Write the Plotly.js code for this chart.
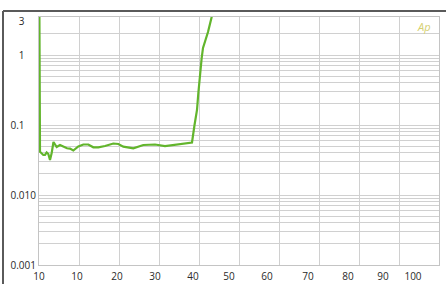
<!DOCTYPE html>
<html>
<head>
<meta charset="utf-8">
<script src="https://cdn.plot.ly/plotly-3.0.1.min.js"></script>
<style>html,body{margin:0;padding:0;background:#fff;}#chart{width:446px;height:284px;}</style>
</head>
<body>
<div id="chart"></div>
<script>
// Curve data (x in grid units: each vertical grid division = 10 units)
const xValues = [0.1, 0.1, 0.25, 1.08, 1.5, 1.92, 2.33, 2.75, 3.17, 3.62, 4.42, 5.25, 6.08, 7.0, 7.75, 8.58, 9.83, 11.08, 12.33, 13.58, 14.83, 16.5, 18.58, 19.83, 21.08, 23.58, 26.08, 29.0, 31.5, 35.25, 38.25, 38.88, 39.5, 39.83, 40.25, 40.67, 41.0, 41.5, 42.25, 43.17, 43.5];
const yValues = [4.0, 0.2, 0.0416, 0.0373, 0.0373, 0.0405, 0.0385, 0.0316, 0.0398, 0.0572, 0.0485, 0.0518, 0.049, 0.0465, 0.046, 0.0432, 0.0493, 0.0527, 0.0527, 0.048, 0.048, 0.0501, 0.0544, 0.0535, 0.049, 0.0465, 0.0518, 0.0527, 0.0501, 0.0535, 0.0562, 0.1, 0.164, 0.284, 0.572, 0.906, 1.26, 1.53, 2.13, 3.49, 4.1];

// X tick labels (as printed) and their positions
const xTickText = ['10', '10', '20', '30', '40', '50', '60', '70', '80', '90', '100'];
const xTickPos = [0, 9.5, 19.5, 29, 38.5, 47.5, 57, 67.25, 77.25, 86, 93.5];
const xGridVals = [0, 10, 20, 30, 40, 50, 60, 70, 80, 90, 100];

// Y tick labels
const FS = '\u2007\u2007';
const yTickVals = [0.001, 0.01, 0.1, 1, 3];
const yTickText = ['0.001', '0.010', '0.1' + FS, '1' + FS, '3' + FS];
const yGridVals = [0.001,0.002,0.003,0.004,0.005,0.006,0.007,0.008,0.009,
                   0.01,0.02,0.03,0.04,0.05,0.06,0.07,0.08,0.09,
                   0.1,0.2,0.3,0.4,0.5,0.6,0.7,0.8,0.9,1,2];

const gridColor = '#d0d0d0';
const font = {family: 'Open Sans, sans-serif', size: 10, color: '#2a2a2a'};

const traces = [
  {x: [], y: [], xaxis: 'x2', yaxis: 'y2', type: 'scatter', mode: 'lines', hoverinfo: 'skip', showlegend: false},
  {x: xValues, y: yValues, type: 'scatter', mode: 'lines',
   line: {color: '#62b52c', width: 2.2}, showlegend: false}
];

const layout = {
  width: 446, height: 284,
  margin: {l: 39, r: 7, t: 17, b: 19},
  paper_bgcolor: '#ffffff', plot_bgcolor: '#ffffff',
  font: font,
  showlegend: false,
  xaxis: {
    range: [0, 100], tickmode: 'array', tickvals: xTickPos, ticktext: xTickText,
    showgrid: false, zeroline: false, showline: true, mirror: true, linecolor: '#c4c4c4', linewidth: 1,
    ticks: '', tickfont: font, ticklabelstandoff: 2
  },
  xaxis2: {
    overlaying: 'x', anchor: 'y', range: [0, 100], tickmode: 'array', tickvals: xGridVals,
    showticklabels: false, showgrid: true, gridcolor: gridColor, gridwidth: 1, zeroline: false, ticks: ''
  },
  yaxis: {
    type: 'log', range: [-3, 0.543], tickmode: 'array', tickvals: yTickVals, ticktext: yTickText,
    showgrid: false, zeroline: false, showline: true, mirror: true, linecolor: '#c4c4c4', linewidth: 1,
    ticks: '', tickfont: font
  },
  yaxis2: {
    type: 'log', overlaying: 'y', anchor: 'x', side: 'left', range: [-3, 0.543], tickmode: 'array', tickvals: yGridVals,
    showticklabels: false, showgrid: true, gridcolor: gridColor, gridwidth: 1, zeroline: false, ticks: ''
  },
  shapes: [
    {type: 'line', xref: 'paper', yref: 'paper', x0: -0.09, x1: -0.09, y0: -0.08, y1: 1.0242, line: {color: '#5a5a5a', width: 2}},
    {type: 'line', xref: 'paper', yref: 'paper', x0: -0.09, x1: 1.02, y0: 1.0242, y1: 1.0242, line: {color: '#5a5a5a', width: 2}}
  ],
  annotations: [
    {xref: 'paper', yref: 'paper', x: 0.985, y: 0.96, xanchor: 'right', yanchor: 'middle', showarrow: false,
     text: '<i>Ap</i>', font: {family: 'Open Sans, sans-serif', size: 11, color: '#d6d070'}}
  ]
};

Plotly.newPlot('chart', traces, layout, {staticPlot: true, displayModeBar: false});
</script>
</body>
</html>
